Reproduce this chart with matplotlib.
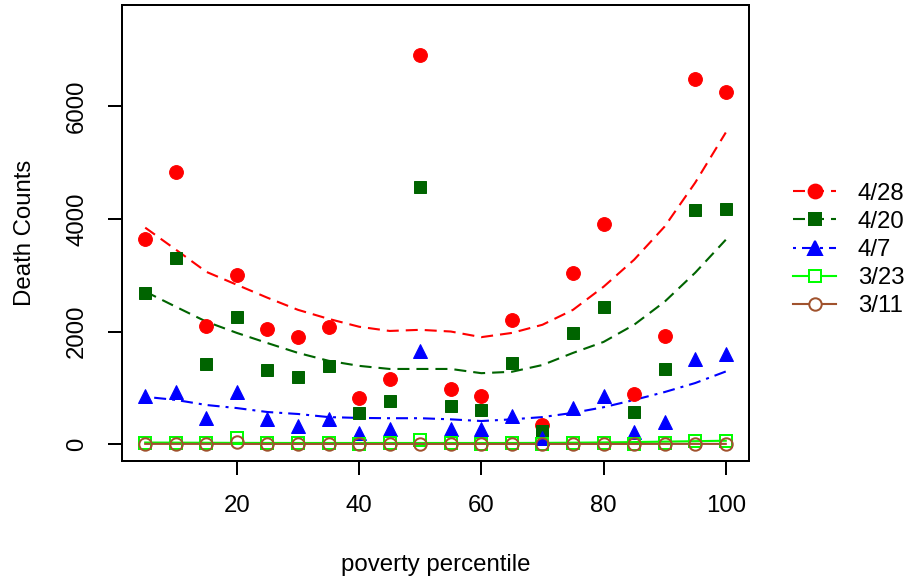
import numpy as np
import matplotlib
matplotlib.use("Agg")
import matplotlib.pyplot as plt
from matplotlib.lines import Line2D

plt.rcParams['font.family'] = ['Liberation Sans', 'DejaVu Sans']
plt.rcParams['font.size'] = 12

# ---- data ----
percentile = [5, 10, 15, 20, 25, 30, 35, 40, 45, 50, 55, 60, 65, 70, 75, 80, 85, 90, 95, 100]
deaths_0428 = [3650, 4825, 2100, 3010, 2050, 1905, 2085, 820, 1160, 6910,
               980, 855, 2210, 340, 3045, 3915, 890, 1920, 6480, 6250]
deaths_0420 = [2690, 3310, 1425, 2260, 1320, 1190, 1390, 550, 765, 4575,
               675, 605, 1440, 230, 1975, 2440, 570, 1335, 4150, 4185]
deaths_0407 = [855, 925, 460, 925, 445, 320, 445, 195, 265, 1655,
               265, 265, 500, 100, 640, 855, 215, 390, 1510, 1600]
deaths_0323 = [15, 20, 20, 115, 15, 15, 15, 10, 15, 65,
               15, 10, 15, 5, 20, 25, 10, 20, 60, 60]
deaths_0311 = [2, 3, 3, 35, 2, 2, 2, 1, 2, 5,
               2, 2, 2, 1, 3, 4, 2, 3, 5, 5]

# smoothed (loess-style) trend values at each percentile
trend_0428 = [3845, 3455, 3060, 2830, 2600, 2385, 2225, 2085, 2010, 2030,
              2000, 1900, 1975, 2120, 2385, 2795, 3275, 3865, 4645, 5535]
trend_0420 = [2710, 2440, 2175, 1975, 1795, 1620, 1480, 1390, 1335, 1335,
              1335, 1260, 1285, 1405, 1620, 1815, 2120, 2530, 3045, 3630]
trend_0407 = [840, 785, 695, 640, 570, 535, 480, 465, 460, 460,
              440, 410, 440, 480, 555, 655, 785, 925, 1085, 1290]
trend_0323 = [28, 26, 24, 22, 21, 20, 20, 20, 20, 20,
              20, 20, 20, 22, 25, 30, 36, 44, 52, 60]
trend_0311 = [4, 4, 4, 3, 3, 3, 3, 3, 3, 3,
              3, 3, 3, 3, 3, 3, 3, 4, 4, 4]

series_labels = ['4/28', '4/20', '4/7', '3/23', '3/11']
x_ticks = [20, 40, 60, 80, 100]
y_ticks = [0, 2000, 4000, 6000]

DPI = 144
fig = plt.figure(figsize=(910 / DPI, 579 / DPI), dpi=DPI)
ax = fig.add_axes([122 / 910, 1 - 461 / 579, (749 - 122) / 910, (461 - 5) / 579])

lw = 1.05
dash = (0, (6.0 / lw, 3.5 / lw))
dashdot = (0, (1.5 / lw, 3.0 / lw, 6.0 / lw, 3.0 / lw))

specs = [
    (deaths_0428, trend_0428, '#FF0000', 'o', True, dash, 6.9),
    (deaths_0420, trend_0420, '#006400', 's', True, dash, 6.2),
    (deaths_0407, trend_0407, '#0000FF', '^', True, dashdot, 7.2),
    (deaths_0323, trend_0323, '#00FF00', 's', False, '-', 6.0),
    (deaths_0311, trend_0311, '#A0522D', 'o', False, '-', 6.2),
]

handles = []
for (vals, trend, col, mk, filled, ls, ms), lab in zip(specs, series_labels):
    if filled:
        ax.plot(percentile, vals, linestyle='none', marker=mk, ms=ms,
                color=col, mec=col, mew=0.5, zorder=3)
    else:
        ax.plot(percentile, vals, linestyle='none', marker=mk, ms=ms,
                mfc='none', mec=col, mew=1.0, zorder=3)
    ax.plot(percentile, trend, linestyle=ls, color=col, lw=lw, zorder=2)
    if filled:
        h = Line2D([], [], color=col, linestyle=ls, lw=lw, marker=mk, ms=ms,
                   mec=col, mfc=col)
    else:
        h = Line2D([], [], color=col, linestyle=ls, lw=lw, marker=mk, ms=ms,
                   mec=col, mfc='white', mew=1.0)
    handles.append(h)

ax.set_xlim(1.2, 103.8)
ax.set_ylim(-300, 7800)
ax.set_xticks(x_ticks)
ax.set_xticklabels([str(t) for t in x_ticks])
ax.set_yticks(y_ticks)
ax.set_yticklabels([str(t) for t in y_ticks], rotation=90, va='center')
ax.tick_params(axis='both', direction='out', length=7, width=1.0, pad=10, labelsize=12)
for s in ax.spines.values():
    s.set_linewidth(1.0)

ax.set_xlabel('poverty percentile', fontsize=12, labelpad=18.5)
ax.set_ylabel('Death Counts', fontsize=12, labelpad=15)

fig.legend(handles, series_labels, loc='center left',
           bbox_to_anchor=(781 / 910, 1 - 250 / 579), frameon=False,
           handlelength=1.8, handletextpad=0.9, labelspacing=0.26,
           numpoints=1, fontsize=12, borderpad=0)

fig.savefig('out.png', dpi=DPI)
